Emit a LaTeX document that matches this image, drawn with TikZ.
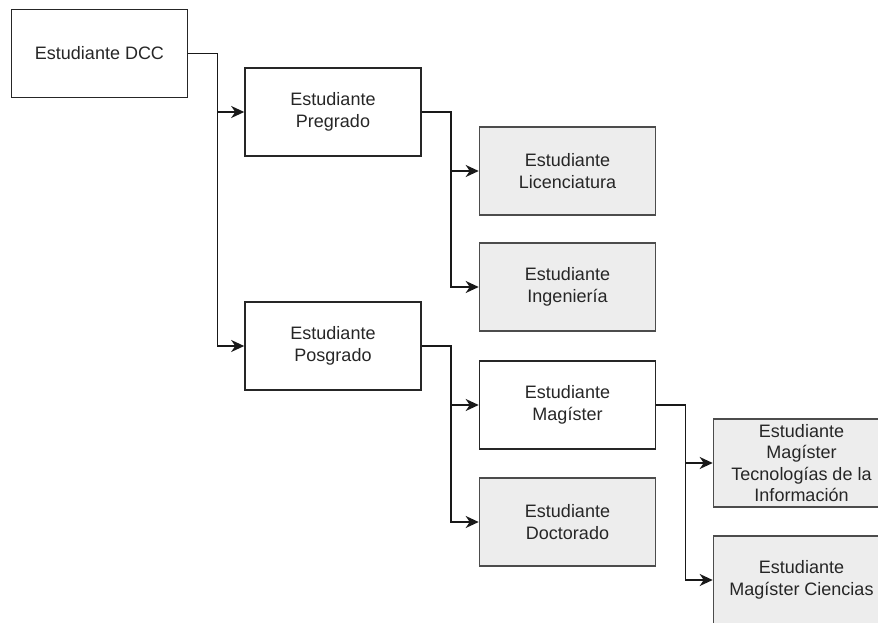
\documentclass[tikz,border=0pt]{standalone}
\usepackage{fontspec}
\setmainfont{Liberation Sans}
\usetikzlibrary{arrows.meta}
\tikzset{
  box/.style={rectangle,draw=black!85,line width=1.6pt,minimum width=176pt,minimum height=88pt,
    inner sep=0pt,align=center,font=\fontsize{18}{21.6}\selectfont,text=black!85},
  leafbox/.style={box,fill=black!7,draw=black!70},
  edge/.style={-{Stealth[length=13pt,width=12pt,inset=4pt]},line width=1.6pt,black!90}
}
\begin{document}
\begin{tikzpicture}[x=1pt,y=-1pt]
\useasboundingbox (0,0) rectangle (878,623);
\clip (0,0) rectangle (878,623);
% boxes
\node[box] (dcc) at (99.5,53.5) {Estudiante DCC};
\node[box] (pre) at (333,112) {Estudiante\\Pregrado};
\node[box] (pos) at (333,346) {Estudiante\\Posgrado};
\node[leafbox] (lic) at (567.5,171) {Estudiante\\Licenciatura};
\node[leafbox] (ing) at (567.5,287) {Estudiante\\Ingeniería};
\node[box] (mag) at (567.5,405) {Estudiante\\Magíster};
\node[leafbox] (doc) at (567.5,522) {Estudiante\\Doctorado};
\node[leafbox] (mti) at (801.5,463) {Estudiante\\Magíster\\Tecnologías de la\\Información};
\node[leafbox] (mci) at (801.5,580) {Estudiante\\Magíster Ciencias};
% edges
\foreach \src/\dst in {dcc/pre,dcc/pos,pre/lic,pre/ing,pos/mag,pos/doc,mag/mti,mag/mci} {
  \draw[edge] (\src.east) -- ++(29,0) |- (\dst.west);
}
\end{tikzpicture}
\end{document}
